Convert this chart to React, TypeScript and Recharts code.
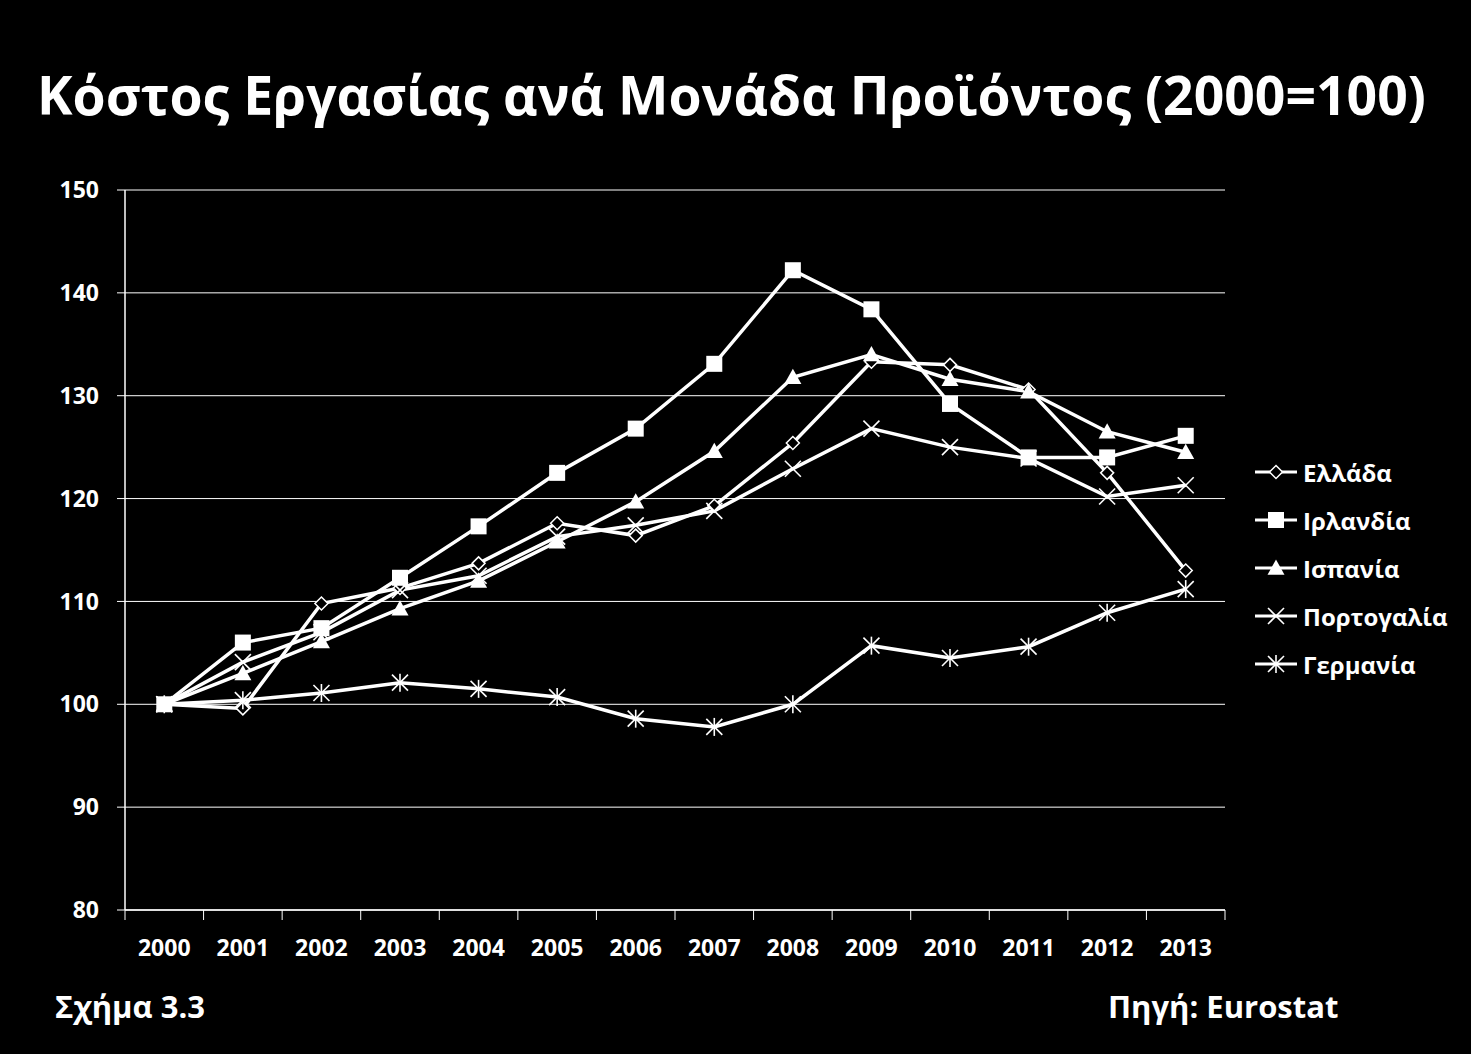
import React from "react";
import { LineChart, Line, XAxis, YAxis, CartesianGrid, Legend } from "recharts";

const years = [2000, 2001, 2002, 2003, 2004, 2005, 2006, 2007, 2008, 2009, 2010, 2011, 2012, 2013];
const greece = [100, 99.6, 109.8, 111.3, 113.7, 117.6, 116.4, 119.3, 125.4, 133.3, 133.0, 130.6, 122.5, 113.0];
const ireland = [100, 106.0, 107.4, 112.3, 117.3, 122.5, 126.8, 133.1, 142.2, 138.4, 129.2, 124.0, 124.0, 126.1];
const spain = [100, 103.0, 106.1, 109.3, 112.0, 115.8, 119.7, 124.6, 131.8, 134.0, 131.6, 130.4, 126.5, 124.5];
const portugal = [100, 104.1, 107.0, 111.1, 112.5, 116.3, 117.4, 118.8, 122.9, 126.8, 125.0, 123.9, 120.2, 121.3];
const germany = [100, 100.4, 101.1, 102.1, 101.5, 100.7, 98.6, 97.8, 100.0, 105.7, 104.5, 105.6, 108.9, 111.2];
const yTicks = [80, 90, 100, 110, 120, 130, 140, 150];

const data = years.map((year, i) => ({
  year,
  greece: greece[i],
  ireland: ireland[i],
  spain: spain[i],
  portugal: portugal[i],
  germany: germany[i],
}));

const FONT = "'Open Sans', sans-serif";
const WHITE = "#ffffff";

type MarkerProps = { cx?: number; cy?: number };

function Diamond({ cx = 0, cy = 0 }: MarkerProps) {
  const r = 6.5;
  return (
    <polygon
      points={`${cx},${cy - r} ${cx + r},${cy} ${cx},${cy + r} ${cx - r},${cy}`}
      fill="#000"
      stroke={WHITE}
      strokeWidth={1.5}
    />
  );
}

function Square({ cx = 0, cy = 0 }: MarkerProps) {
  const r = 8;
  return <rect x={cx - r} y={cy - r} width={r * 2} height={r * 2} fill={WHITE} />;
}

function Triangle({ cx = 0, cy = 0 }: MarkerProps) {
  const r = 8.5;
  return <polygon points={`${cx},${cy - r} ${cx + r},${cy + r * 0.8} ${cx - r},${cy + r * 0.8}`} fill={WHITE} />;
}

function Cross({ cx = 0, cy = 0 }: MarkerProps) {
  const r = 8;
  return (
    <g stroke={WHITE} strokeWidth={1.6}>
      <line x1={cx - r} y1={cy - r} x2={cx + r} y2={cy + r} />
      <line x1={cx - r} y1={cy + r} x2={cx + r} y2={cy - r} />
    </g>
  );
}

function Star({ cx = 0, cy = 0 }: MarkerProps) {
  const r = 8;
  return (
    <g stroke={WHITE} strokeWidth={1.6}>
      <line x1={cx - r} y1={cy - r} x2={cx + r} y2={cy + r} />
      <line x1={cx - r} y1={cy + r} x2={cx + r} y2={cy - r} />
      <line x1={cx} y1={cy - r - 1} x2={cx} y2={cy + r + 1} />
    </g>
  );
}

const series = [
  { key: "greece", name: "Ελλάδα", Marker: Diamond },
  { key: "ireland", name: "Ιρλανδία", Marker: Square },
  { key: "spain", name: "Ισπανία", Marker: Triangle },
  { key: "portugal", name: "Πορτογαλία", Marker: Cross },
  { key: "germany", name: "Γερμανία", Marker: Star },
];

// plot spans 1100px for 14 years -> half a band
const HALF_BAND = 1100 / 28;

function YearTick(props: any) {
  const { x, y, payload } = props;
  const v = payload.value as number;
  if (v > 2013) return <g />;
  return (
    <text
      x={x + HALF_BAND}
      y={y}
      dy="0.71em"
      textAnchor="middle"
      fill={WHITE}
      fontFamily={FONT}
      fontWeight={700}
      fontSize={23}
    >
      {v + 0.5}
    </text>
  );
}

function LegendContent() {
  return (
    <div style={{ fontFamily: FONT, fontWeight: 700, fontSize: 24, color: WHITE }}>
      {series.map(({ key, name, Marker }) => (
        <div key={key} style={{ display: "flex", alignItems: "center", height: 48 }}>
          <svg width={46} height={24} style={{ marginRight: 4 }}>
            <line x1={2} y1={12} x2={44} y2={12} stroke={WHITE} strokeWidth={3} />
            <Marker cx={23} cy={12} />
          </svg>
          <span>{name}</span>
        </div>
      ))}
    </div>
  );
}

export default function App() {
  const boundaries = years.map((y) => y - 0.5).concat([2013.5]);
  return (
    <div
      style={{
        position: "fixed",
        left: 0,
        top: 0,
        width: 1471,
        height: 1054,
        background: "#000",
        overflow: "hidden",
        fontFamily: FONT,
      }}
    >
      <div
        style={{
          position: "absolute",
          left: 0,
          width: 1463,
          top: 55,
          textAlign: "center",
          color: WHITE,
          fontWeight: 700,
          fontSize: 53.5,
          lineHeight: "80px",
        }}
      >
        Κόστος Εργασίας ανά Μονάδα Προϊόντος (2000=100)
      </div>
      <div style={{ position: "absolute", left: 0, top: 0 }}>
        <LineChart
          width={1471}
          height={1054}
          data={data}
          margin={{ top: 190, right: 246, bottom: 84, left: 0 }}
        >
          <CartesianGrid vertical={false} stroke={WHITE} strokeWidth={1} />
          <XAxis
            dataKey="year"
            type="number"
            domain={[1999.5, 2013.5]}
            ticks={boundaries}
            interval={0}
            height={60}
            axisLine={{ stroke: WHITE, strokeWidth: 1.5 }}
            tickLine={{ stroke: WHITE, strokeWidth: 1 }}
            tickSize={10}
            tickMargin={20}
            tick={YearTick}
          />
          <YAxis
            domain={[80, 150]}
            ticks={yTicks}
            interval={0}
            width={125}
            axisLine={{ stroke: WHITE, strokeWidth: 1.5 }}
            tickLine={{ stroke: WHITE, strokeWidth: 1 }}
            tickSize={8}
            tickMargin={18}
            tick={{ fill: WHITE, fontFamily: FONT, fontWeight: 700, fontSize: 23 }}
          />
          <Legend
            layout="vertical"
            align="center"
            verticalAlign="middle"
            content={LegendContent}
            wrapperStyle={{ left: 1253, top: 448, width: 218 }}
          />
          {series.map(({ key, name, Marker }) => (
            <Line
              key={key}
              dataKey={key}
              name={name}
              stroke={WHITE}
              strokeWidth={3.5}
              isAnimationActive={false}
              dot={(p: any) => <Marker key={`${key}-${p.index}`} cx={p.cx} cy={p.cy} />}
              activeDot={false}
            />
          ))}
        </LineChart>
      </div>
      <div
        style={{
          position: "absolute",
          left: 55,
          top: 985,
          color: WHITE,
          fontWeight: 700,
          fontSize: 31,
        }}
      >
        Σχήμα 3.3
      </div>
      <div
        style={{
          position: "absolute",
          left: 1108,
          top: 985,
          color: WHITE,
          fontWeight: 700,
          fontSize: 31,
        }}
      >
        Πηγή: Eurostat
      </div>
    </div>
  );
}
